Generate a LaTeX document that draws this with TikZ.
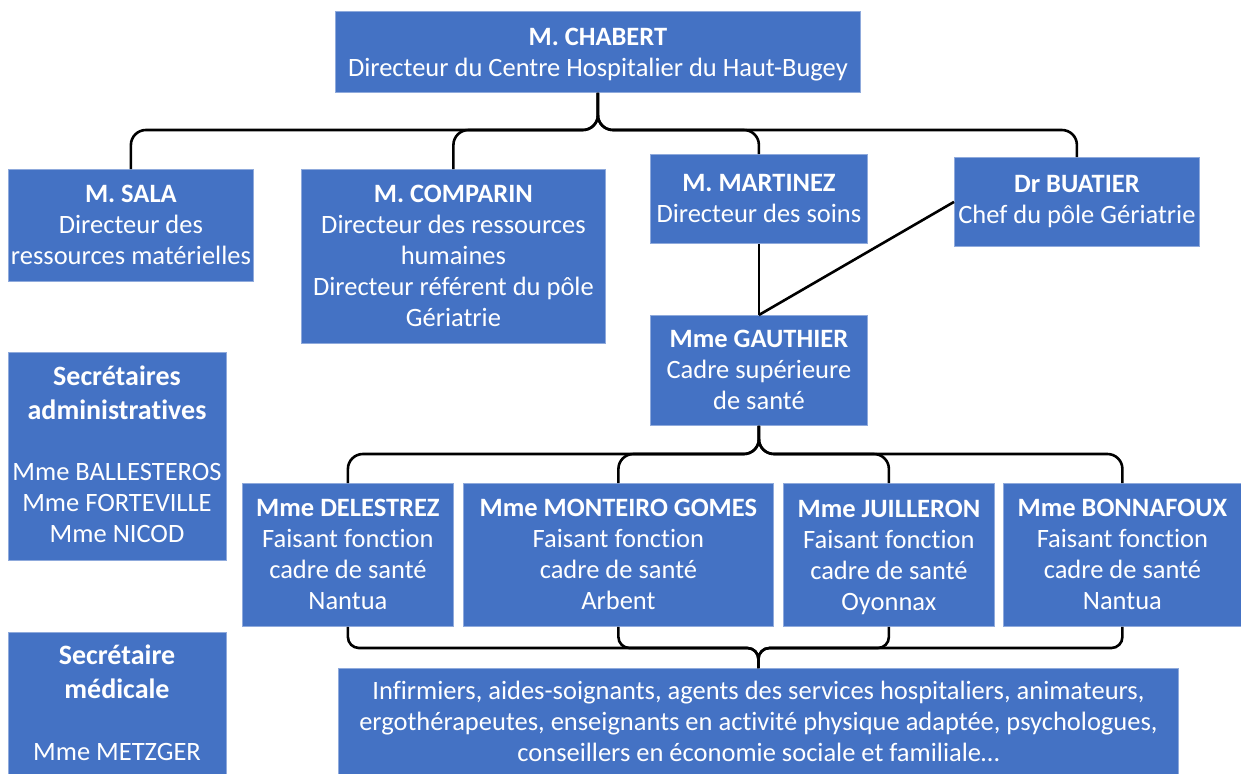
\documentclass[tikz,border=0pt]{standalone}
\usepackage{fontspec}
\setmainfont{Carlito}[Ligatures={NoCommon,NoDiscretionary}]
\definecolor{boxblue}{HTML}{4472C4}
\definecolor{boxedge}{HTML}{8FAADC}
\newcommand{\nodepth}[1]{\raisebox{0pt}[\height][0pt]{#1}}
\begin{document}
\begin{tikzpicture}[x=1pt,y=-1pt]
\tikzset{
  box/.style={draw=boxedge, line width=0.8pt, fill=boxblue, text=white, align=center,
    inner sep=0pt, anchor=north west, font=\fontsize{26.5}{31}\selectfont},
  conn/.style={draw=black, line width=2.6pt, rounded corners=15pt},
  connb/.style={draw=black, line width=2.6pt, rounded corners=11pt}
}
\useasboundingbox (0,0) rectangle (1241,773);
% top level
\node[box, minimum width=525pt, minimum height=81pt] (chabert) at (335,11)
  {\textbf{M. CHABERT}\\\nodepth{Directeur du Centre Hospitalier du Haut-Bugey}};
% second level
\node[box, minimum width=245pt, minimum height=112pt] (sala) at (8,169)
  {\textbf{M. SALA}\\Directeur des\\ressources matérielles};
\node[box, minimum width=304pt, minimum height=174pt] (comparin) at (301,169)
  {\textbf{M. COMPARIN}\\Directeur des ressources\\humaines\\Directeur référent du pôle\\Gériatrie};
\node[box, minimum width=217pt, minimum height=89pt] (martinez) at (650,154)
  {\textbf{M. MARTINEZ}\\Directeur des soins};
\node[box, minimum width=245pt, minimum height=89pt] (buatier) at (954,157)
  {\textbf{Dr BUATIER}\\Chef du pôle Gériatrie};
% gauthier
\node[box, minimum width=217pt, minimum height=110pt] (gauthier) at (650,315)
  {\textbf{Mme GAUTHIER}\\Cadre supérieure\\de santé};
% secretaries
\node[box, minimum width=218pt, minimum height=208pt] (secadm) at (8,352) {};
\node[text=white, align=center, inner sep=0pt, font=\fontsize{28}{34}\selectfont\bfseries] (secadmt) at (117,393) {Secrétaires\\administratives};
\node[text=white, align=center, inner sep=0pt, font=\fontsize{26.5}{31}\selectfont] (secadmn) at (117,503) {Mme BALLESTEROS\\Mme FORTEVILLE\\Mme NICOD};
\node[box, minimum width=218pt, minimum height=145pt] (secmed) at (8,632) {};
\node[text=white, align=center, inner sep=0pt, font=\fontsize{28}{34}\selectfont\bfseries] (secmedt) at (117,672) {Secrétaire\\médicale};
\node[text=white, inner sep=0pt, font=\fontsize{26.5}{31}\selectfont] (secmedn) at (117,752) {Mme METZGER};
% cadres
\node[box, minimum width=211pt, minimum height=143pt] (delestrez) at (242,483)
  {\textbf{Mme DELESTREZ}\\Faisant fonction\\cadre de santé\\Nantua};
\node[box, minimum width=310pt, minimum height=143pt] (monteiro) at (463,483)
  {\textbf{Mme MONTEIRO GOMES}\\Faisant fonction\\cadre de santé\\Arbent};
\node[box, minimum width=211pt, minimum height=143pt] (juilleron) at (783,483)
  {\textbf{Mme JUILLERON}\\Faisant fonction\\cadre de santé\\\nodepth{Oyonnax}};
\node[box, minimum width=238pt, minimum height=143pt] (bonnafoux) at (1003,483)
  {\textbf{Mme BONNAFOUX}\\Faisant fonction\\cadre de santé\\Nantua};
% staff
\node[box, minimum width=840pt, minimum height=106pt] (staff) at (338,668)
  {Infirmiers, aides-soignants, agents des services hospitaliers, animateurs,\\ergothérapeutes, enseignants en activité physique adaptée, psychologues,\\conseillers en économie sociale et familiale…};
% connector levels
\coordinate (hA) at (0,130);
\coordinate (hB) at (0,454);
\coordinate (hC) at (0,648);
\foreach \c in {sala,comparin,martinez,buatier}
  \draw[conn] (chabert.south) -- (chabert.south |- hA) -- (\c.north |- hA) -- (\c.north);
\draw[conn] (martinez.south) -- (gauthier.north);
\draw[conn] (buatier.west) -- (gauthier.north);
\foreach \c in {delestrez,monteiro,juilleron,bonnafoux}
  \draw[conn] (gauthier.south) -- (gauthier.south |- hB) -- (\c.north |- hB) -- (\c.north);
\foreach \c in {delestrez,monteiro,juilleron,bonnafoux}
  \draw[connb] (\c.south) -- (\c.south |- hC) -- (staff.north |- hC) -- (staff.north);
\end{tikzpicture}
\end{document}
